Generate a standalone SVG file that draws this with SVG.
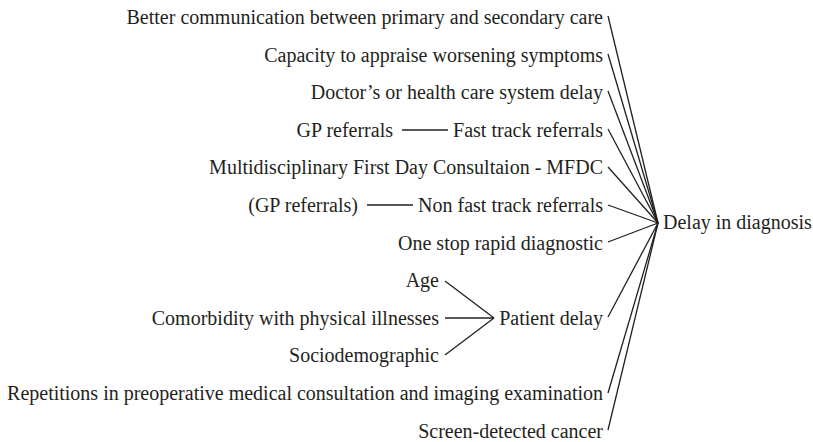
<svg xmlns="http://www.w3.org/2000/svg" width="813" height="442" viewBox="0 0 813 442">
<style>
text{font-family:Liberation Serif,serif;font-size:20px;fill:#231f20;text-anchor:end}
text.s{text-anchor:start}
.c line{stroke:#231f20;stroke-width:1.3;fill:none}
</style>
<rect width="813" height="442" fill="#fff"/>
<g class="c" id="connectors">
<line x1="608" y1="16" x2="658" y2="223"/>
<line x1="608" y1="54" x2="658" y2="223"/>
<line x1="608" y1="91" x2="658" y2="223"/>
<line x1="608" y1="129" x2="658" y2="223"/>
<line x1="608" y1="167" x2="658" y2="223"/>
<line x1="608" y1="205" x2="658" y2="223"/>
<line x1="608" y1="242" x2="658" y2="223"/>
<line x1="608" y1="317" x2="658" y2="223"/>
<line x1="608" y1="393" x2="658" y2="223"/>
<line x1="608" y1="430" x2="658" y2="223"/>
<line x1="402" y1="130" x2="448" y2="130"/>
<line x1="367" y1="205" x2="413" y2="205"/>
<line x1="445" y1="281" x2="494" y2="318"/>
<line x1="445" y1="318" x2="494" y2="318"/>
<line x1="445" y1="355" x2="494" y2="318"/>
</g>
<g id="n-better"><text x="603" y="24">Better communication between primary and secondary care</text></g>
<g id="n-capacity"><text x="603" y="61.6">Capacity to appraise worsening symptoms</text></g>
<g id="n-doctor"><text x="603" y="99.2">Doctor’s or health care system delay</text></g>
<g id="n-gp1"><text x="393" y="136.8">GP referrals</text></g>
<g id="n-fast"><text x="603" y="136.8">Fast track referrals</text></g>
<g id="n-mfdc"><text x="603" y="174.4">Multidisciplinary First Day Consultaion - MFDC</text></g>
<g id="n-gp2"><text x="358" y="212">(GP referrals)</text></g>
<g id="n-nonfast"><text x="603" y="212">Non fast track referrals</text></g>
<g id="n-onestop"><text x="603" y="249.6">One stop rapid diagnostic</text></g>
<g id="n-age"><text x="439" y="287.2">Age</text></g>
<g id="n-comorb"><text x="439" y="324.8">Comorbidity with physical illnesses</text></g>
<g id="n-patient"><text x="603" y="324.8">Patient delay</text></g>
<g id="n-socio"><text x="439" y="362.4">Sociodemographic</text></g>
<g id="n-repet"><text x="603" y="400">Repetitions in preoperative medical consultation and imaging examination</text></g>
<g id="n-screen"><text x="603" y="437.6">Screen-detected cancer</text></g>
<g id="n-delay"><text class="s" x="663" y="229">Delay in diagnosis</text></g>
</svg>
